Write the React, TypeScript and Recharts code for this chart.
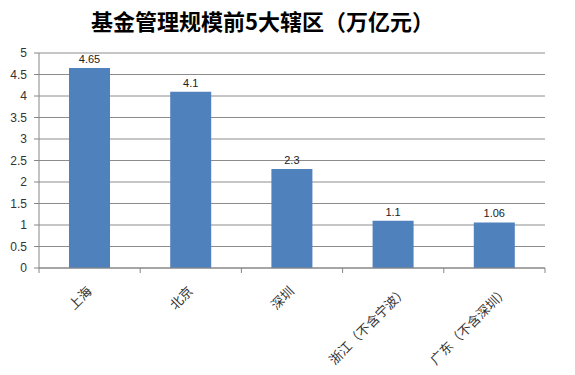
import { BarChart, Bar, XAxis, YAxis, CartesianGrid, LabelList } from 'recharts';

const regions = ['上海', '北京', '深圳', '浙江（不含宁波）', '广东（不含深圳）'];
const scale = [4.65, 4.1, 2.3, 1.1, 1.06];
const yTicks = [0, 0.5, 1, 1.5, 2, 2.5, 3, 3.5, 4, 4.5, 5];

const data = regions.map((name, i) => ({ name, value: scale[i] }));

const BAND = (545 - 39) / regions.length;

function RegionTick({ x, y, payload, index }: any) {
  const left = x - BAND / 2;
  // excel pushes the longer rotated labels a little further right
  const tx = x + 3 + (String(payload.value).length - 2) * 2;
  const ty = y + 16;
  return (
    <g>
      <line x1={left} y1={y - 8} x2={left} y2={y - 3} stroke="#868686" />
      {index === regions.length - 1 && (
        <line x1={x + BAND / 2} y1={y - 8} x2={x + BAND / 2} y2={y - 3} stroke="#868686" />
      )}
      <text
        x={tx}
        y={ty}
        textAnchor="end"
        fontSize={13}
        fill="#333"
        fontFamily="'Noto Sans CJK SC', sans-serif"
        transform={`rotate(-45, ${tx}, ${ty})`}
      >
        {payload.value}
      </text>
    </g>
  );
}

export default function App() {
  return (
    <div style={{ position: 'absolute', left: 0, top: 0, width: 575, height: 375, background: '#fff' }}>
      <div
        style={{
          position: 'absolute',
          top: 4,
          left: -25,
          width: 575,
          textAlign: 'center',
          fontFamily: "'Noto Sans CJK SC', sans-serif",
          fontWeight: 700,
          fontSize: 22,
          color: '#000',
        }}
      >
        基金管理规模前5大辖区（万亿元）
      </div>
      <BarChart width={575} height={375} data={data} margin={{ top: 53, right: 30, left: 0, bottom: 0 }}>
        <CartesianGrid vertical={false} stroke="#8c8c8c" />
        <XAxis
          dataKey="name"
          height={107}
          interval={0}
          tickLine={false}
          axisLine={{ stroke: '#868686' }}
          tick={<RegionTick />}
        />
        <YAxis
          width={39}
          domain={[0, 5]}
          ticks={yTicks}
          interval={0}
          tickSize={5}
          tickLine={{ stroke: '#868686' }}
          axisLine={{ stroke: '#868686' }}
          tick={{ fill: '#333', fontSize: 12, fontFamily: 'Arial, sans-serif', dx: -5 }}
        />
        <Bar dataKey="value" fill="#4f81bd" barSize={41} isAnimationActive={false}>
          <LabelList dataKey="value" position="top" offset={5} fill="#222" fontSize={11} fontFamily="Arial, sans-serif" />
        </Bar>
      </BarChart>
    </div>
  );
}
